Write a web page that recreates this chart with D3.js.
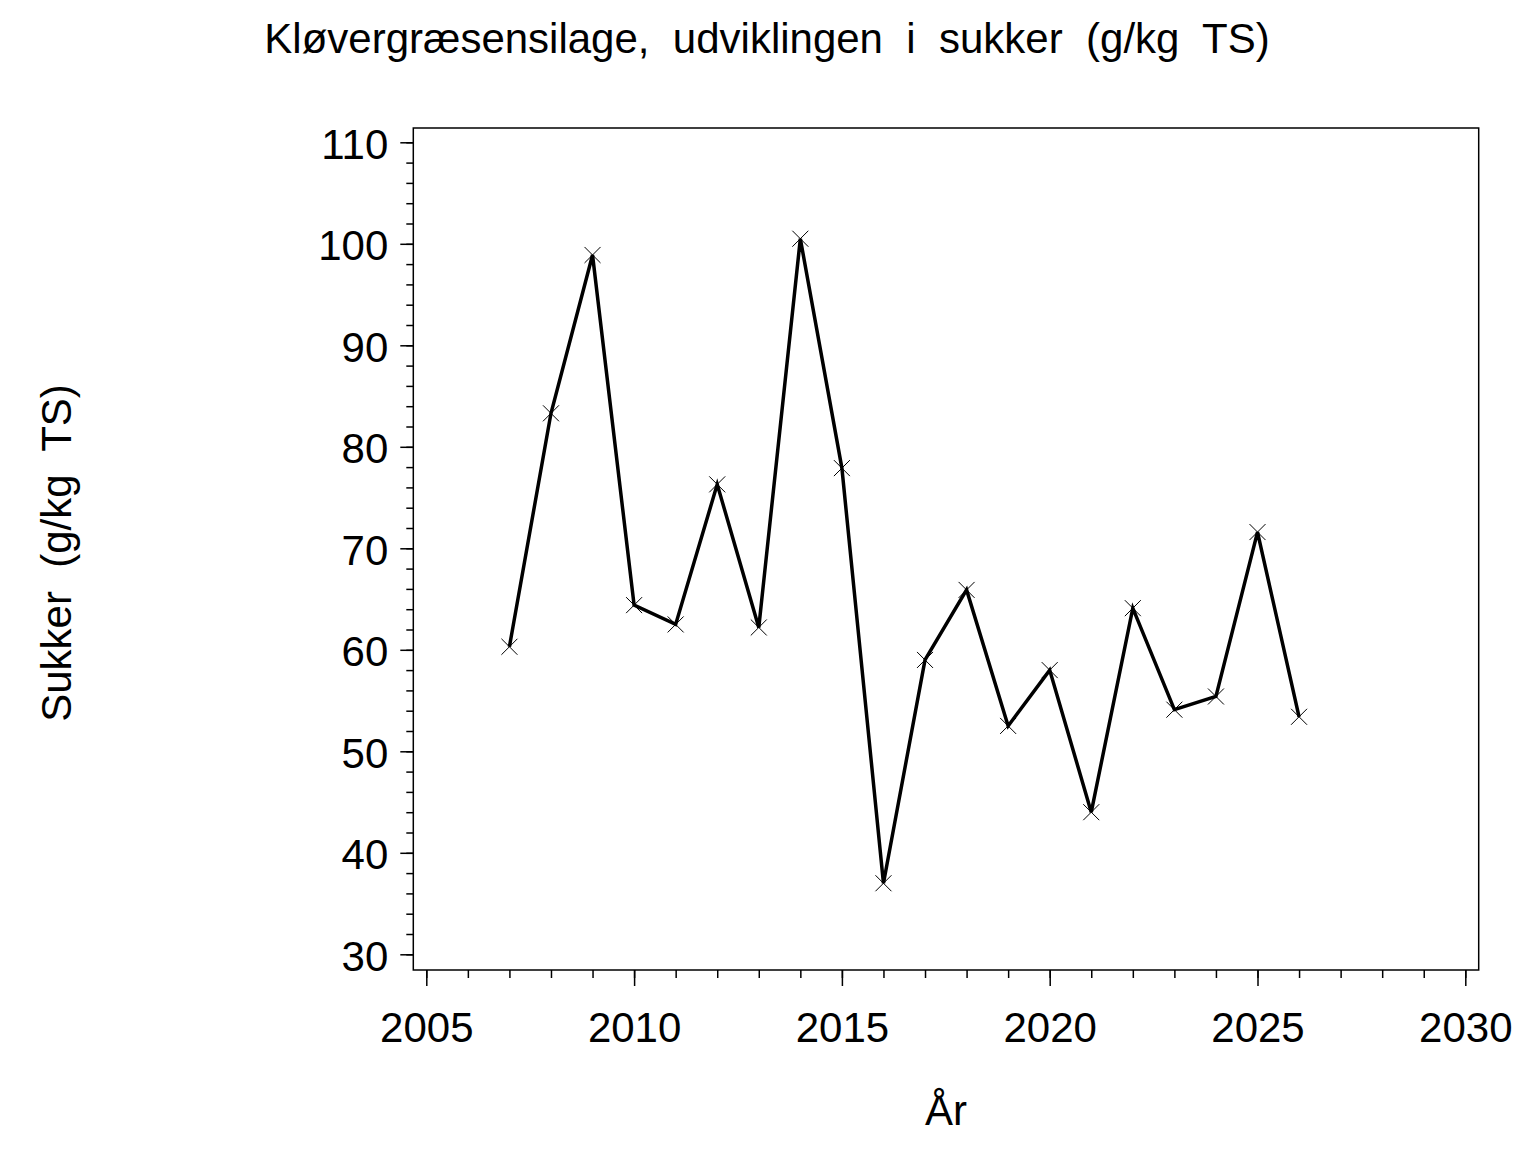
<!DOCTYPE html>
<html lang="en">
<head>
<meta charset="UTF-8">
<title>Kløvergræsensilage, sukker</title>
<script src="https://d3js.org/d3.v7.min.js"></script>
<style type="text/css">
    body { margin: 0; background: white; }
    svg text { font-family: "Liberation Sans", Arial, sans-serif; fill: black; }
    .axis path.domain { display: none; }
    .axis line { stroke: black; stroke-width: 1.5; }
</style>
</head>
<body>
<script type="text/javascript">

// data
const years = [2007, 2008, 2009, 2010, 2011, 2012, 2013, 2014, 2015, 2016,
               2017, 2018, 2019, 2020, 2021, 2022, 2023, 2024, 2025, 2026];
const sukker = [60.3, 83.3, 98.9, 64.4, 62.5, 76.3, 62.2, 100.5, 77.9, 37.0,
                59.0, 65.9, 52.5, 58.0, 44.0, 64.1, 54.1, 55.4, 71.6, 53.4];
const xTicks = [2005, 2010, 2015, 2020, 2025, 2030];
const yTicks = [30, 40, 50, 60, 70, 80, 90, 100, 110];

const width = 1536, height = 1152;
const svg = d3.select("body").append("svg")
    .attr("width", width)
    .attr("height", height);

const x = d3.scaleLinear().domain([2005, 2030]).range([426.3, 1465.3]);
const y = d3.scaleLinear().domain([30, 110]).range([954.3, 142.3]);

// frame
const frame = { left: 413.3, top: 128, right: 1478.7, bottom: 970 };
svg.append("rect")
    .attr("x", frame.left)
    .attr("y", frame.top)
    .attr("width", frame.right - frame.left)
    .attr("height", frame.bottom - frame.top)
    .attr("fill", "none")
    .attr("stroke", "black")
    .attr("stroke-width", 1.5);

// minor ticks first, then majors with labels
svg.append("g").attr("class", "axis")
    .attr("transform", `translate(0,${frame.bottom})`)
    .call(d3.axisBottom(x).tickValues(d3.range(2005, 2031, 1)).tickSize(8).tickFormat(""));
svg.append("g").attr("class", "axis")
    .attr("transform", `translate(0,${frame.bottom})`)
    .call(d3.axisBottom(x).tickValues(xTicks).tickSize(16).tickPadding(26).tickFormat(d3.format("d")))
    .selectAll("text").attr("font-size", 42).style("font-family", null);

svg.append("g").attr("class", "axis")
    .attr("transform", `translate(${frame.left},0)`)
    .call(d3.axisLeft(y).tickValues(d3.range(30, 111, 2)).tickSize(7).tickFormat(""));
svg.append("g").attr("class", "axis")
    .attr("transform", `translate(${frame.left},0)`)
    .call(d3.axisLeft(y).tickValues(yTicks).tickSize(13).tickPadding(12).tickFormat(d3.format("d")))
    .selectAll("text").attr("font-size", 42).attr("dy", "0.38em");

svg.selectAll(".axis text").attr("font-family", null).attr("fill", "black");

// series line
const line = d3.line()
    .x((d, i) => x(years[i]))
    .y(d => y(d));

svg.append("path")
    .datum(sukker)
    .attr("d", line)
    .attr("fill", "none")
    .attr("stroke", "black")
    .attr("stroke-width", 3.5)
    .attr("stroke-linejoin", "miter");

// x markers
const m = 8;
svg.selectAll(".marker")
    .data(sukker)
    .enter().append("path")
    .attr("class", "marker")
    .attr("d", (d, i) => {
        const cx = x(years[i]), cy = y(d);
        return `M${cx - m},${cy - m}L${cx + m},${cy + m}M${cx - m},${cy + m}L${cx + m},${cy - m}`;
    })
    .attr("stroke", "black")
    .attr("stroke-width", 1)
    .attr("fill", "none");

// titles
svg.append("text")
    .attr("x", 767)
    .attr("y", 53)
    .attr("text-anchor", "middle")
    .attr("font-size", 42)
    .style("white-space", "pre")
    .text("Kløvergræsensilage,  udviklingen  i  sukker  (g/kg  TS)");

svg.append("text")
    .attr("x", 946)
    .attr("y", 1125)
    .attr("text-anchor", "middle")
    .attr("font-size", 42)
    .text("År");

svg.append("text")
    .attr("transform", "translate(71,553) rotate(-90)")
    .attr("text-anchor", "middle")
    .attr("font-size", 42)
    .style("white-space", "pre")
    .text("Sukker  (g/kg  TS)");

</script>
</body>
</html>
